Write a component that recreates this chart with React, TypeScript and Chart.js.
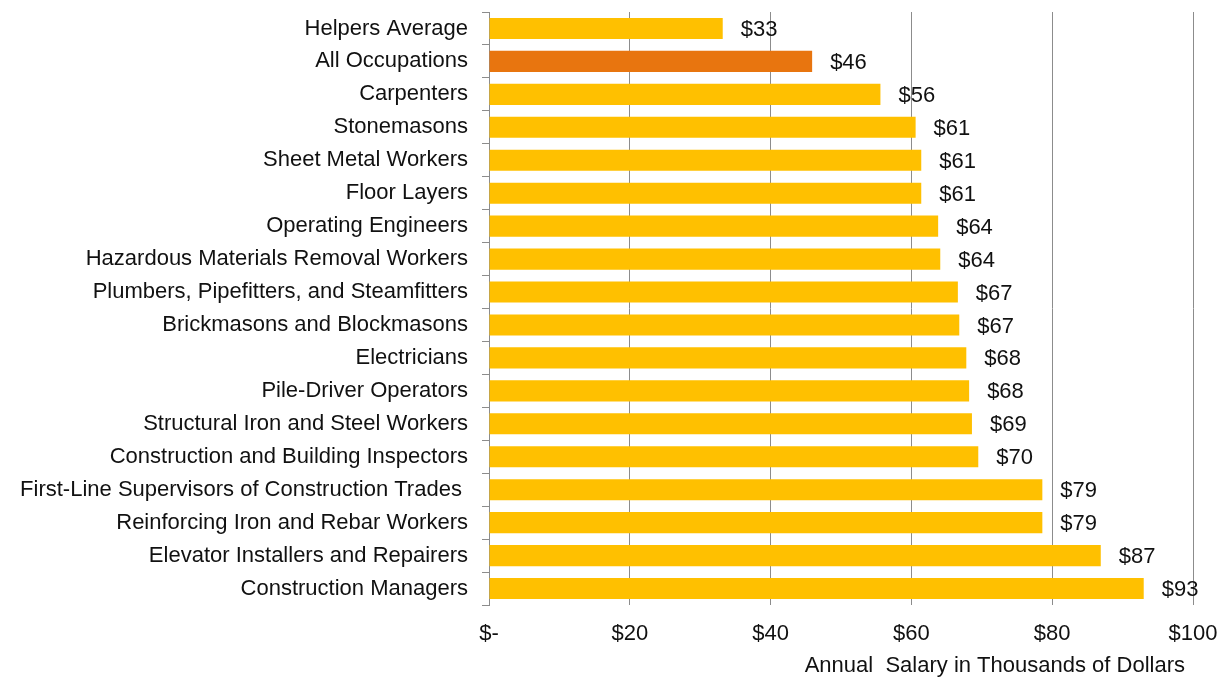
import React, { useEffect, useRef } from "react";
import { Chart, registerables } from "chart.js";

Chart.register(...registerables);

const categories = [
  "Helpers Average",
  "All Occupations",
  "Carpenters",
  "Stonemasons",
  "Sheet Metal Workers",
  "Floor Layers",
  "Operating Engineers",
  "Hazardous Materials Removal Workers",
  "Plumbers, Pipefitters, and Steamfitters",
  "Brickmasons and Blockmasons",
  "Electricians",
  "Pile-Driver Operators",
  "Structural Iron and Steel Workers",
  "Construction and Building Inspectors",
  "First-Line Supervisors of Construction Trades ",
  "Reinforcing Iron and Rebar Workers",
  "Elevator Installers and Repairers",
  "Construction Managers",
];

const salaries = [
  33.2, 45.9, 55.6, 60.6, 61.4, 61.4, 63.8, 64.1, 66.6, 66.8, 67.8, 68.2, 68.6,
  69.5, 78.6, 78.6, 86.9, 93.0,
];

const highlighted = "All Occupations";
const xTicks = [0, 20, 40, 60, 80, 100];
const axisTitle = "Annual  Salary in Thousands of Dollars";

const FONT = "'Liberation Sans', Arial, sans-serif";
const TEXT = "#111";

const valueLabels = {
  id: "valueLabels",
  afterDatasetsDraw(chart: any) {
    const ctx = chart.ctx;
    const meta = chart.getDatasetMeta(0);
    ctx.save();
    ctx.font = `22px ${FONT}`;
    ctx.fillStyle = TEXT;
    ctx.textAlign = "left";
    ctx.textBaseline = "middle";
    meta.data.forEach((bar: any, i: number) => {
      const v = chart.data.datasets[0].data[i] as number;
      ctx.fillText("$" + Math.round(v), bar.x + 18, bar.y + 1.5);
    });
    ctx.restore();
  },
};

const xTitle = {
  id: "xTitle",
  afterDraw(chart: any) {
    const ctx = chart.ctx;
    const area = chart.chartArea;
    ctx.save();
    ctx.font = `22px ${FONT}`;
    ctx.fillStyle = TEXT;
    ctx.textAlign = "right";
    ctx.textBaseline = "middle";
    ctx.fillText(axisTitle, area.right - 8, area.bottom + 61);
    ctx.restore();
  },
};

export default function App() {
  const ref = useRef<HTMLCanvasElement>(null);

  useEffect(() => {
    const chart = new Chart(ref.current!, {
      type: "bar",
      data: {
        labels: categories,
        datasets: [
          {
            data: salaries,
            backgroundColor: categories.map((c) =>
              c === highlighted ? "#E8750F" : "#FFC000"
            ),
            barPercentage: 0.64,
            categoryPercentage: 1,
          },
        ],
      },
      options: {
        indexAxis: "y",
        animation: false,
        responsive: false,
        maintainAspectRatio: false,
        layout: { padding: { top: 12, right: 37, bottom: 0, left: 0 } },
        plugins: {
          legend: { display: false },
          tooltip: { enabled: false },
        },
        scales: {
          x: {
            min: 0,
            max: 100,
            afterBuildTicks: (axis: any) => {
              axis.ticks = xTicks.map((v) => ({ value: v }));
            },
            ticks: {
              font: { family: FONT, size: 22 },
              color: TEXT,
              padding: 16,
              maxRotation: 0,
              callback: (v: any) => (Number(v) === 0 ? "$-" : "$" + v),
            },
            grid: {
              color: "#8C8C8C",
              lineWidth: 1,
              tickLength: 0,
            },
            border: { display: false },
            title: { display: false },
            afterFit: (axis: any) => {
              axis.height = 72;
              axis.paddingLeft = 0;
              axis.paddingRight = 0;
            },
          },
          y: {
            ticks: {
              font: { family: FONT, size: 22 },
              color: TEXT,
              padding: 14,
              autoSkip: false,
            },
            grid: {
              drawOnChartArea: false,
              color: "#8C8C8C",
              tickLength: 7,
              offset: true,
            },
            border: { display: true, color: "#8C8C8C", width: 1 },
            afterFit: (axis: any) => {
              axis.width = 489;
              axis.paddingTop = 0;
              axis.paddingBottom = 0;
            },
          },
        },
      },
      plugins: [valueLabels, xTitle],
    });
    return () => chart.destroy();
  }, []);

  return (
    <div
      style={{
        position: "fixed",
        left: 0,
        top: 0,
        width: 1230,
        height: 677,
        background: "#fff",
      }}
    >
      <canvas ref={ref} width={1230} height={677} />
    </div>
  );
}
